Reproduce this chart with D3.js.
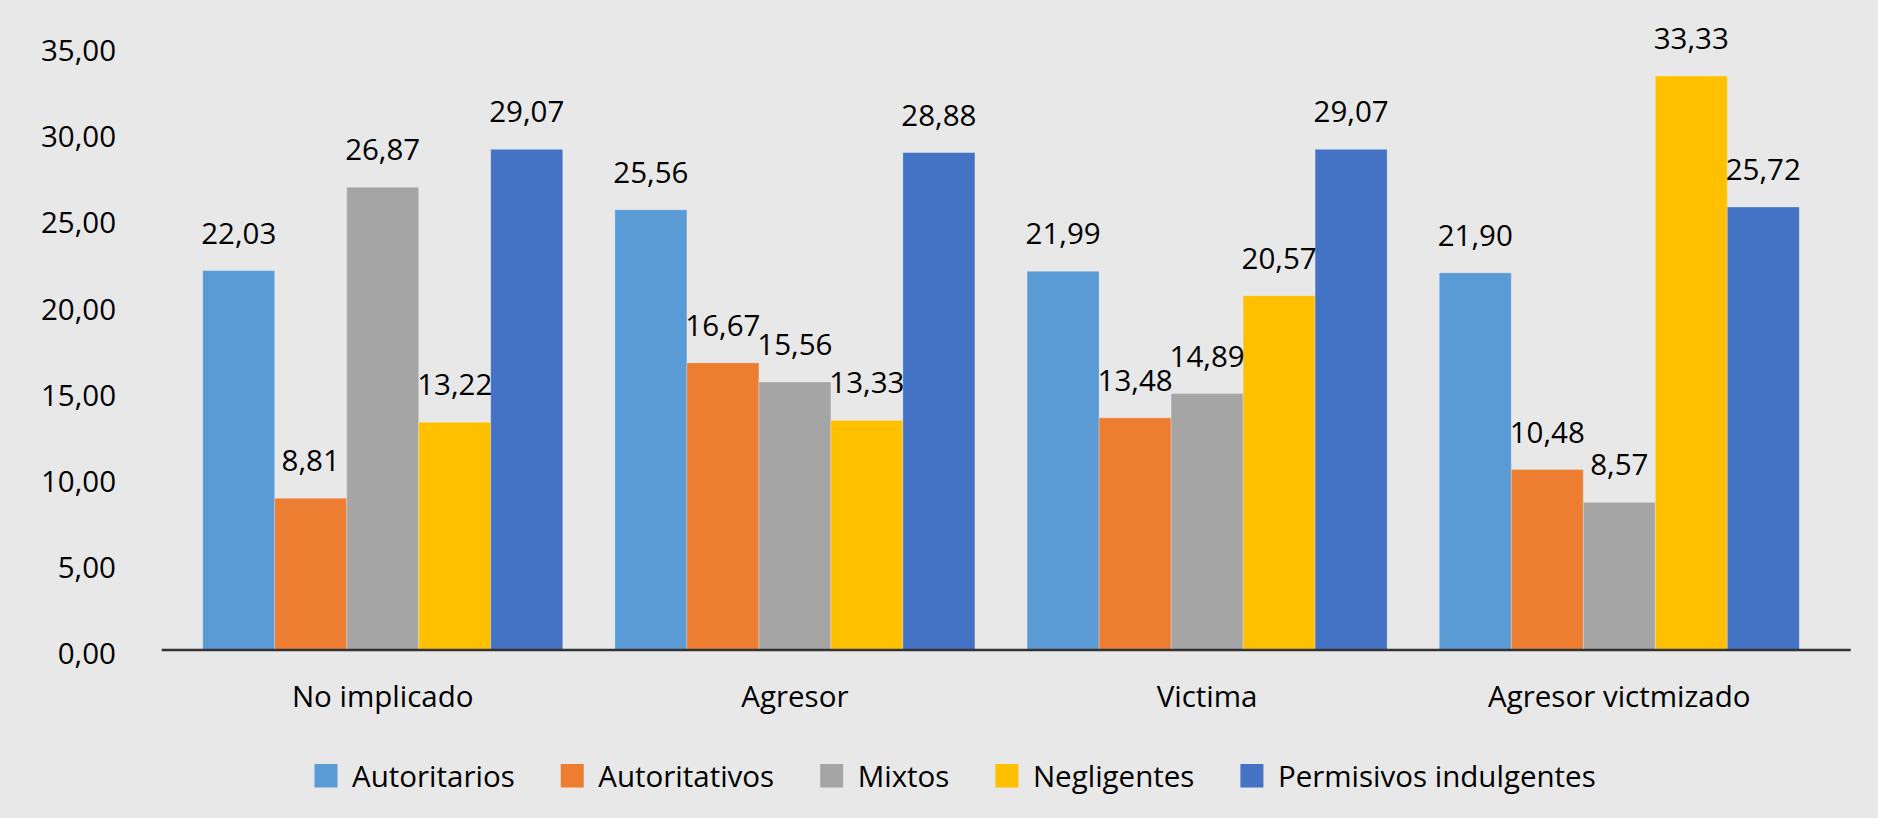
<!DOCTYPE html>
<html>
<head>
<meta charset="utf-8">
<script src="https://cdn.jsdelivr.net/npm/d3@7"></script>
<style>
  html, body { margin: 0; padding: 0; background: #e8e8e8; }
  svg { display: block; }
  text { font-family: "Open Sans", "Noto Sans", sans-serif; fill: #000; }
</style>
</head>
<body>
<svg id="chart" width="1878" height="818"></svg>
<script>
const categories = ["No implicado", "Agresor", "Victima", "Agresor victmizado"];
const seriesNames = ["Autoritarios", "Autoritativos", "Mixtos", "Negligentes", "Permisivos indulgentes"];
const autoritarios = [22.03, 25.56, 21.99, 21.90];
const autoritativos = [8.81, 16.67, 13.48, 10.48];
const mixtos = [26.87, 15.56, 14.89, 8.57];
const negligentes = [13.22, 13.33, 20.57, 33.33];
const permisivos = [29.07, 28.88, 29.07, 25.72];
const yTicks = [0, 5, 10, 15, 20, 25, 30, 35];
const colors = ["#5b9bd5", "#ed7d31", "#a5a5a5", "#ffc000", "#4472c4"];

const seriesValues = [autoritarios, autoritativos, mixtos, negligentes, permisivos];
const fmt = v => d3.format(".2f")(v).replace(".", ",");
const FS = 29.5;

const svg = d3.select("#chart");
svg.append("rect").attr("width", 1878).attr("height", 818).attr("fill", "#e8e8e8");

const y = d3.scaleLinear().domain([0, 35]).range([650, 47.2]);
const x0 = d3.scaleBand().domain(categories).range([176.6, 1825.4])
  .paddingInner(0.1266).paddingOuter(0.0633);
const x1 = d3.scaleBand().domain(seriesNames).range([0, x0.bandwidth()]).padding(0);

// Y tick labels
svg.append("g").selectAll("text").data(yTicks).join("text")
  .attr("x", 116).attr("y", d => y(d) + 14)
  .attr("text-anchor", "end").attr("font-size", FS)
  .text(d => fmt(d));

// Bars
const groups = svg.append("g").selectAll("g").data(categories).join("g")
  .attr("transform", d => `translate(${x0(d)},0)`);

groups.each(function(cat, ci) {
  const g = d3.select(this);
  const rows = seriesNames.map((s, si) => ({ s, si, v: seriesValues[si][ci] }));
  g.selectAll("rect").data(rows).join("rect")
    .attr("x", d => x1(d.s))
    .attr("y", d => y(d.v))
    .attr("width", x1.bandwidth())
    .attr("height", d => y(0) - y(d.v))
    .attr("fill", d => colors[d.si])
    .attr("stroke", "#ffffff").attr("stroke-opacity", 0.25).attr("stroke-width", 1);
  g.selectAll("text.lbl").data(rows).join("text")
    .attr("class", "lbl")
    .attr("x", d => x1(d.s) + x1.bandwidth() / 2)
    .attr("y", d => y(d.v) - 27)
    .attr("text-anchor", "middle").attr("font-size", FS)
    .text(d => fmt(d.v));
});

// X axis line
svg.append("line").attr("x1", 161.7).attr("x2", 1850.7)
  .attr("y1", y(0)).attr("y2", y(0))
  .attr("stroke", "#333333").attr("stroke-width", 2.5);

// Category labels
svg.append("g").selectAll("text").data(categories).join("text")
  .attr("x", d => x0(d) + x0.bandwidth() / 2)
  .attr("y", 706.5)
  .attr("text-anchor", "middle").attr("font-size", FS)
  .text(d => d);

// Legend
const legend = svg.append("g");
let lx = 314.5;
seriesNames.forEach((name, i) => {
  legend.append("rect").attr("x", lx).attr("y", 764).attr("width", 23).attr("height", 23.5)
    .attr("fill", colors[i]);
  const t = legend.append("text").attr("x", lx + 37.5).attr("y", 786.5)
    .attr("font-size", FS).text(name);
  const w = t.node().getComputedTextLength();
  lx = lx + 37.5 + w + 46;
});
</script>
</body>
</html>
